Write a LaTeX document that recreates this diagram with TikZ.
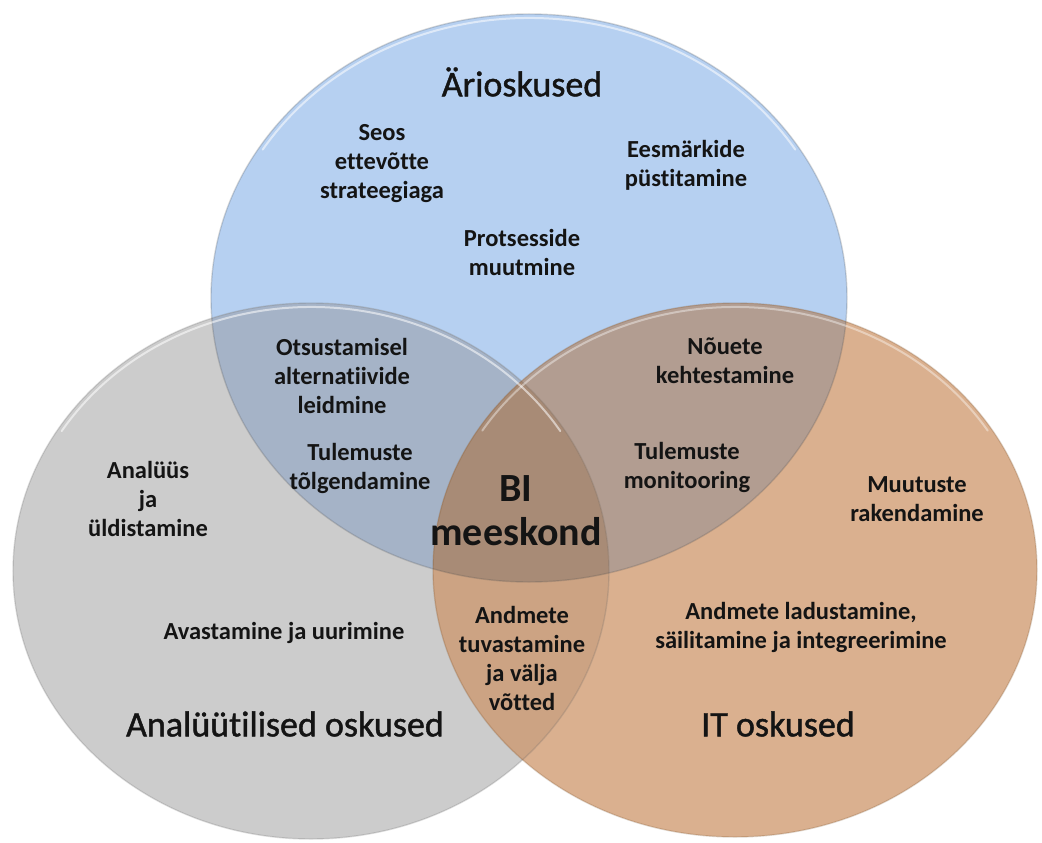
\documentclass[tikz,border=0pt]{standalone}
\usepackage{fontspec}
\setmainfont{Carlito}[Ligatures=NoCommon]
\newfontfamily\ttlfont{Carlito}[Ligatures=NoCommon, FakeBold=1.2]
\definecolor{bluec}{HTML}{B6D0F1}
\definecolor{grayc}{HTML}{CCCCCC}
\definecolor{orangec}{HTML}{DAB08F}
\definecolor{bgc}{HTML}{A5B3C7}
\definecolor{boc}{HTML}{B29D91}
\definecolor{goc}{HTML}{CCA383}
\definecolor{ctrc}{HTML}{A88B76}
\definecolor{txtc}{HTML}{141414}
\tikzset{
  lbl/.style={text=txtc, align=center, inner sep=0pt,
    font=\fontsize{24.5bp}{29bp}\selectfont\bfseries},
  ttl/.style={text=txtc, align=center, inner sep=0pt,
    font=\ttlfont\fontsize{36bp}{43bp}\selectfont},
  bi/.style={text=txtc, align=center, inner sep=0pt,
    font=\fontsize{40bp}{44bp}\selectfont\bfseries},
  rim/.style={line width=1.4bp, draw opacity=0.22},
  shine/.style={white, line width=2bp, draw opacity=0.55, line cap=round},
}
\begin{document}
\begin{tikzpicture}[x=1bp,y=-1bp]
\useasboundingbox (0,0) rectangle (1042,843);
\fill[white] (0,0) rectangle (1042,843);
\coordinate (B) at (529,298);
\coordinate (G) at (311,571);
\coordinate (O) at (735,570);
\def\blueE{(B) ellipse[x radius=318bp, y radius=284bp]}
\def\grayE{(G) ellipse[x radius=298bp, y radius=268bp]}
\def\orangeE{(O) ellipse[x radius=302bp, y radius=267bp]}
% base fills
\fill[bluec] \blueE;
\fill[grayc] \grayE;
\fill[orangec] \orangeE;
% pairwise overlaps
\begin{scope}\clip \blueE; \fill[bgc] \grayE; \end{scope}
\begin{scope}\clip \blueE; \fill[boc] \orangeE; \end{scope}
\begin{scope}\clip \grayE; \fill[goc] \orangeE; \end{scope}
\begin{scope}\clip \blueE; \clip \grayE; \fill[ctrc] \orangeE; \end{scope}
% rims
\draw[rim, draw=black!70] \blueE;
\draw[rim, draw=black!60] \grayE;
\draw[rim, draw=brown!60!black] \orangeE;
% highlights
\draw[shine] ([shift={(148:314bp and 280bp)}]B) arc[start angle=148, end angle=32, x radius=314bp, y radius=280bp];
\draw[shine] ([shift={(148:294bp and 264bp)}]G) arc[start angle=148, end angle=32, x radius=294bp, y radius=264bp];
\draw[shine, draw opacity=0.4] ([shift={(148:298bp and 263bp)}]O) arc[start angle=148, end angle=32, x radius=298bp, y radius=263bp];
% titles
\node[ttl] (t1) at (522,82) {Ärioskused};
\node[ttl] (t2) at (285,724) {Analüütilised oskused};
\node[ttl] (t3) at (778,724) {IT oskused};
\node[bi] (bi) at (516,511) {BI\\meeskond};
% labels
\node[lbl] (a1) at (382,164) {Seos\\ettevõtte\\strateegiaga};
\node[lbl] (a2) at (686,165) {Eesmärkide\\püstitamine};
\node[lbl] (a3) at (522,252) {Protsesside\\muutmine};
\node[lbl] (a4) at (342,376) {Otsustamisel\\alternatiivide\\leidmine};
\node[lbl] (a5) at (360,468) {Tulemuste\\tõlgendamine};
\node[lbl] (a6) at (148,499) {Analüüs\\ja\\üldistamine};
\node[lbl] (a7) at (725,361) {Nõuete\\kehtestamine};
\node[lbl] (a8) at (687,467) {Tulemuste\\monitooring};
\node[lbl] (a9) at (917,499) {Muutuste\\rakendamine};
\node[lbl] (a10) at (284,633) {Avastamine ja uurimine};
\node[lbl] (a11) at (522,658) {Andmete\\tuvastamine\\ja välja\\võtted};
\node[lbl] (a12) at (801,627) {Andmete ladustamine,\\säilitamine ja integreerimine};
\end{tikzpicture}
\end{document}
